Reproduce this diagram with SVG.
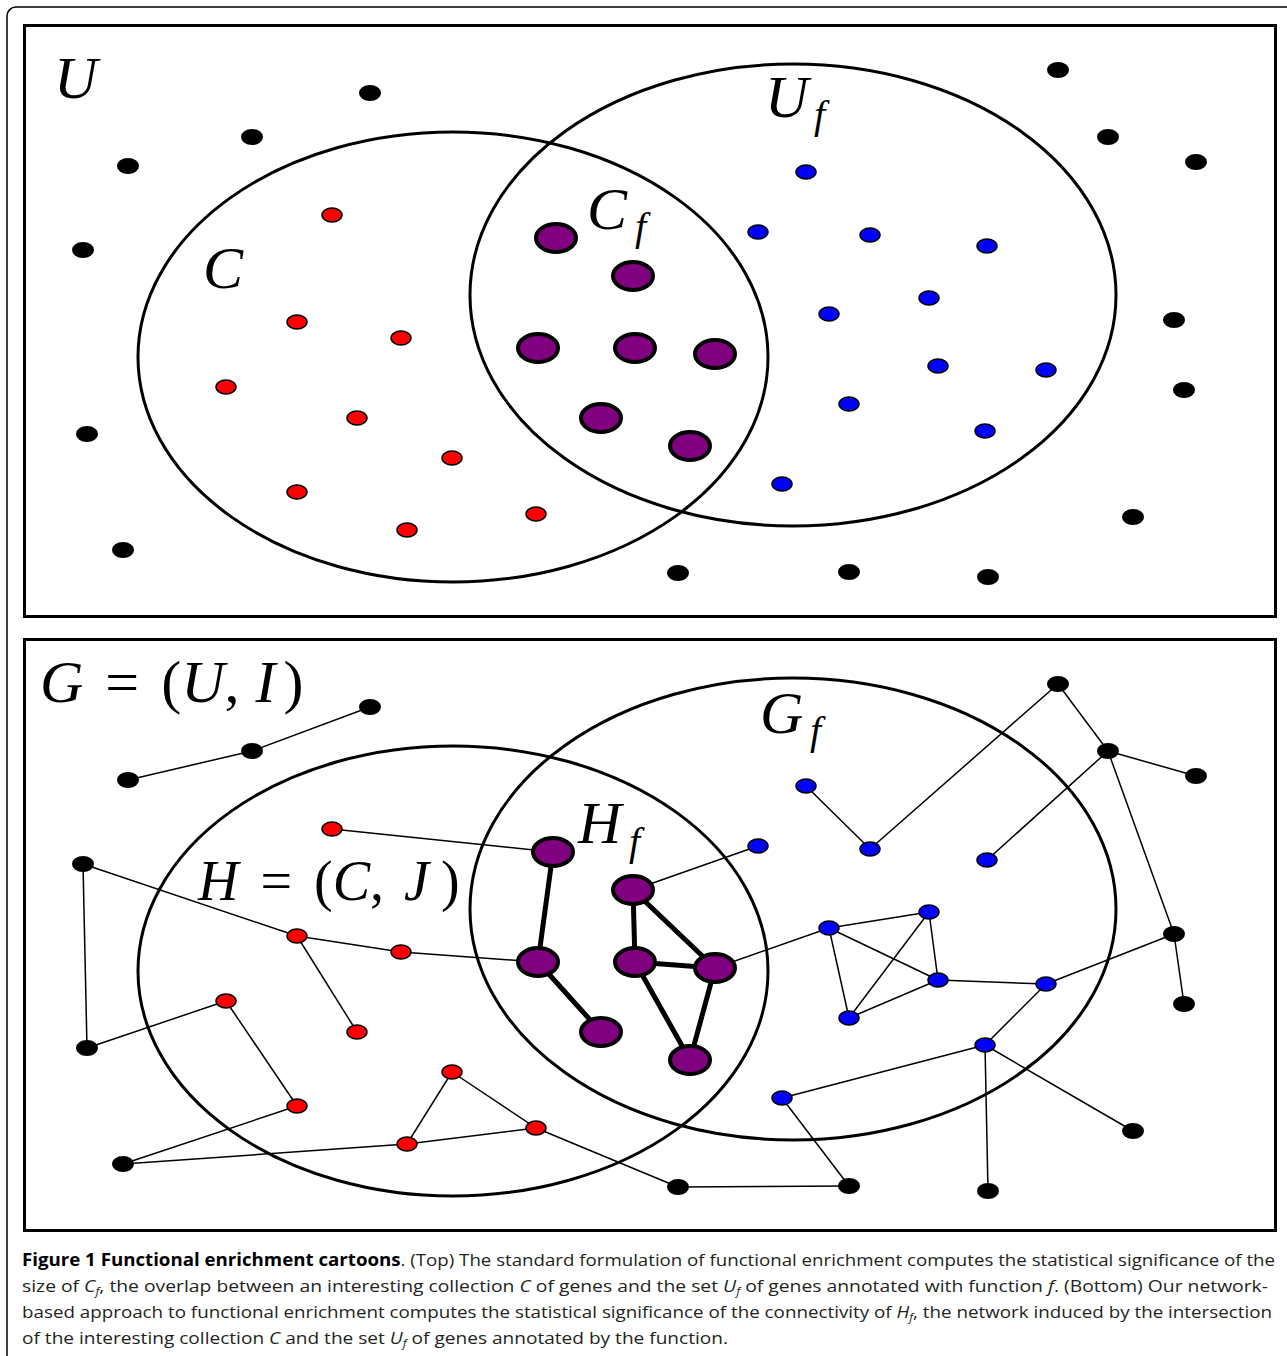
<svg xmlns="http://www.w3.org/2000/svg" width="1287" height="1356" viewBox="0 0 1287 1356">
<style>
.frame{fill:none;stroke:#000;stroke-width:1.5}
.panel{fill:none;stroke:#000;stroke-width:3}
.set{fill:none;stroke:#000;stroke-width:3}
.k{fill:#000}
.r{fill:#ff0000;stroke:#000;stroke-width:1.5}
.b{fill:#0000ff;stroke:#000;stroke-width:1.5}
.p{fill:#800080;stroke:#000;stroke-width:4}
.e{stroke:#000;stroke-width:1.5;fill:none}
.t{stroke:#000;stroke-width:5;fill:none;stroke-linecap:round}
.m{font-family:"Liberation Serif",serif;font-style:italic;fill:#000}
.mu{font-family:"Liberation Serif",serif;font-style:normal;fill:#000}
.cap{font-family:"Open Sans","Liberation Sans",sans-serif;font-size:17px;fill:#231f20}
.capb{font-weight:bold;fill:#000}
.ci{font-style:italic}
</style>
<rect class="frame" x="7" y="7" width="1300" height="1370" rx="9"/>
<rect class="panel" x="24.5" y="25.5" width="1251" height="591"/>
<rect class="panel" x="24.5" y="639.5" width="1251" height="591"/>

<!-- Top panel sets -->
<g id="set-C-top"><ellipse class="set" cx="453" cy="357" rx="315" ry="225"/></g>
<g id="set-Uf-top"><ellipse class="set" cx="793" cy="295" rx="323" ry="231"/></g>
<g id="label-U"><text class="m" x="54" y="98" font-size="60">U</text></g>
<g id="label-Uf"><text class="m" x="765" y="117" font-size="60">U</text><text class="m" x="814" y="128" font-size="40">f</text></g>
<g id="label-C"><text class="m" x="203" y="288" font-size="60">C</text></g>
<g id="label-Cf"><text class="m" x="587" y="229" font-size="60">C</text><text class="m" x="635" y="240" font-size="40">f</text></g>

<!-- Top panel nodes -->
<g id="top-black">
<g id="tk1"><ellipse class="k" cx="370" cy="93" rx="11" ry="8"/></g>
<g id="tk2"><ellipse class="k" cx="252" cy="137" rx="11" ry="8"/></g>
<g id="tk3"><ellipse class="k" cx="128" cy="166" rx="11" ry="8"/></g>
<g id="tk4"><ellipse class="k" cx="83" cy="250" rx="11" ry="8"/></g>
<g id="tk5"><ellipse class="k" cx="87" cy="434" rx="11" ry="8"/></g>
<g id="tk6"><ellipse class="k" cx="123" cy="550" rx="11" ry="8"/></g>
<g id="tk7"><ellipse class="k" cx="1058" cy="70" rx="11" ry="8"/></g>
<g id="tk8"><ellipse class="k" cx="1108" cy="137" rx="11" ry="8"/></g>
<g id="tk9"><ellipse class="k" cx="1196" cy="162" rx="11" ry="8"/></g>
<g id="tk10"><ellipse class="k" cx="1174" cy="320" rx="11" ry="8"/></g>
<g id="tk11"><ellipse class="k" cx="1184" cy="390" rx="11" ry="8"/></g>
<g id="tk12"><ellipse class="k" cx="1133" cy="517" rx="11" ry="8"/></g>
<g id="tk13"><ellipse class="k" cx="678" cy="573" rx="11" ry="8"/></g>
<g id="tk14"><ellipse class="k" cx="849" cy="572" rx="11" ry="8"/></g>
<g id="tk15"><ellipse class="k" cx="988" cy="577" rx="11" ry="8"/></g>
</g>
<g id="top-red">
<g id="tr1"><ellipse class="r" cx="332" cy="215" rx="10" ry="7"/></g>
<g id="tr2"><ellipse class="r" cx="297" cy="322" rx="10" ry="7"/></g>
<g id="tr3"><ellipse class="r" cx="401" cy="338" rx="10" ry="7"/></g>
<g id="tr4"><ellipse class="r" cx="226" cy="387" rx="10" ry="7"/></g>
<g id="tr5"><ellipse class="r" cx="357" cy="418" rx="10" ry="7"/></g>
<g id="tr6"><ellipse class="r" cx="452" cy="458" rx="10" ry="7"/></g>
<g id="tr7"><ellipse class="r" cx="297" cy="492" rx="10" ry="7"/></g>
<g id="tr8"><ellipse class="r" cx="407" cy="530" rx="10" ry="7"/></g>
<g id="tr9"><ellipse class="r" cx="536" cy="514" rx="10" ry="7"/></g>
</g>
<g id="top-blue">
<g id="tb1"><ellipse class="b" cx="806" cy="172" rx="10" ry="7"/></g>
<g id="tb2"><ellipse class="b" cx="758" cy="232" rx="10" ry="7"/></g>
<g id="tb3"><ellipse class="b" cx="870" cy="235" rx="10" ry="7"/></g>
<g id="tb4"><ellipse class="b" cx="987" cy="246" rx="10" ry="7"/></g>
<g id="tb5"><ellipse class="b" cx="829" cy="314" rx="10" ry="7"/></g>
<g id="tb6"><ellipse class="b" cx="929" cy="298" rx="10" ry="7"/></g>
<g id="tb7"><ellipse class="b" cx="938" cy="366" rx="10" ry="7"/></g>
<g id="tb8"><ellipse class="b" cx="1046" cy="370" rx="10" ry="7"/></g>
<g id="tb9"><ellipse class="b" cx="849" cy="404" rx="10" ry="7"/></g>
<g id="tb10"><ellipse class="b" cx="985" cy="431" rx="10" ry="7"/></g>
<g id="tb11"><ellipse class="b" cx="782" cy="484" rx="10" ry="7"/></g>
</g>
<g id="top-purple">
<g id="tp1"><ellipse class="p" cx="556" cy="238" rx="20" ry="14"/></g>
<g id="tp2"><ellipse class="p" cx="633" cy="276" rx="20" ry="14"/></g>
<g id="tp3"><ellipse class="p" cx="538" cy="348" rx="20" ry="14"/></g>
<g id="tp4"><ellipse class="p" cx="635" cy="348" rx="20" ry="14"/></g>
<g id="tp5"><ellipse class="p" cx="715" cy="354" rx="20" ry="14"/></g>
<g id="tp6"><ellipse class="p" cx="601" cy="418" rx="20" ry="14"/></g>
<g id="tp7"><ellipse class="p" cx="690" cy="446" rx="20" ry="14"/></g>
</g>

<!-- Bottom panel sets -->
<g id="set-C-bottom"><ellipse class="set" cx="453" cy="971" rx="315" ry="225"/></g>
<g id="set-Uf-bottom"><ellipse class="set" cx="793" cy="909" rx="323" ry="231"/></g>
<g id="label-G"><text x="40" y="702" font-size="60"><tspan class="m">G</tspan><tspan class="mu" dx="22">=</tspan><tspan class="mu" dx="22">(</tspan><tspan class="m">U</tspan><tspan class="mu">,</tspan><tspan class="m" dx="16">I</tspan><tspan class="mu" dx="8">)</tspan></text></g>
<g id="label-Gf"><text class="m" x="760" y="733" font-size="60">G</text><text class="m" x="810" y="744" font-size="40">f</text></g>
<g id="label-Hf"><text class="m" x="578" y="843" font-size="60">H</text><text class="m" x="629" y="855" font-size="40">f</text></g>
<g id="label-H"><text x="198" y="900" font-size="56"><tspan class="m">H</tspan><tspan class="mu" dx="22">=</tspan><tspan class="mu" dx="22">(</tspan><tspan class="m">C</tspan><tspan class="mu">,</tspan><tspan class="m" dx="20">J</tspan><tspan class="mu" dx="12">)</tspan></text></g>

<!-- Connectors -->
<g id="connectors">
<line class="e" x1="128" y1="780" x2="252" y2="751"/>
<line class="e" x1="252" y1="751" x2="370" y2="707"/>
<line class="e" x1="83" y1="864" x2="87" y2="1048"/>
<line class="e" x1="83" y1="864" x2="297" y2="936"/>
<line class="e" x1="87" y1="1048" x2="226" y2="1001"/>
<line class="e" x1="226" y1="1001" x2="297" y2="1106"/>
<line class="e" x1="297" y1="1106" x2="123" y2="1164"/>
<line class="e" x1="123" y1="1164" x2="407" y2="1144"/>
<line class="e" x1="297" y1="936" x2="401" y2="952"/>
<line class="e" x1="297" y1="936" x2="357" y2="1032"/>
<line class="e" x1="401" y1="952" x2="538" y2="962"/>
<line class="e" x1="332" y1="829" x2="553" y2="852"/>
<line class="e" x1="407" y1="1144" x2="452" y2="1072"/>
<line class="e" x1="452" y1="1072" x2="536" y2="1128"/>
<line class="e" x1="407" y1="1144" x2="536" y2="1128"/>
<line class="e" x1="536" y1="1128" x2="678" y2="1187"/>
<line class="e" x1="678" y1="1187" x2="849" y2="1186"/>
<line class="e" x1="849" y1="1186" x2="782" y2="1098"/>
<line class="e" x1="782" y1="1098" x2="985" y2="1045"/>
<line class="e" x1="985" y1="1045" x2="988" y2="1191"/>
<line class="e" x1="985" y1="1045" x2="1133" y2="1131"/>
<line class="e" x1="985" y1="1045" x2="1046" y2="984"/>
<line class="e" x1="1046" y1="984" x2="938" y2="980"/>
<line class="e" x1="1046" y1="984" x2="1174" y2="934"/>
<line class="e" x1="1174" y1="934" x2="1184" y2="1004"/>
<line class="e" x1="1174" y1="934" x2="1108" y2="751"/>
<line class="e" x1="1108" y1="751" x2="1196" y2="776"/>
<line class="e" x1="1108" y1="751" x2="1058" y2="684"/>
<line class="e" x1="1108" y1="751" x2="987" y2="860"/>
<line class="e" x1="1058" y1="684" x2="870" y2="849"/>
<line class="e" x1="870" y1="849" x2="806" y2="786"/>
<line class="e" x1="829" y1="928" x2="929" y2="912"/>
<line class="e" x1="829" y1="928" x2="938" y2="980"/>
<line class="e" x1="829" y1="928" x2="849" y2="1018"/>
<line class="e" x1="929" y1="912" x2="938" y2="980"/>
<line class="e" x1="929" y1="912" x2="849" y2="1018"/>
<line class="e" x1="938" y1="980" x2="849" y2="1018"/>
<line class="e" x1="829" y1="928" x2="715" y2="968"/>
<line class="e" x1="633" y1="890" x2="758" y2="846"/>
<line class="t" x1="553" y1="852" x2="538" y2="962"/>
<line class="t" x1="538" y1="962" x2="601" y2="1032"/>
<line class="t" x1="633" y1="890" x2="635" y2="962"/>
<line class="t" x1="633" y1="890" x2="715" y2="968"/>
<line class="t" x1="635" y1="962" x2="715" y2="968"/>
<line class="t" x1="635" y1="962" x2="690" y2="1060"/>
<line class="t" x1="715" y1="968" x2="690" y2="1060"/>
</g>

<!-- Bottom panel nodes -->
<g id="bottom-black">
<g id="bk1"><ellipse class="k" cx="370" cy="707" rx="11" ry="8"/></g>
<g id="bk2"><ellipse class="k" cx="252" cy="751" rx="11" ry="8"/></g>
<g id="bk3"><ellipse class="k" cx="128" cy="780" rx="11" ry="8"/></g>
<g id="bk4"><ellipse class="k" cx="83" cy="864" rx="11" ry="8"/></g>
<g id="bk5"><ellipse class="k" cx="87" cy="1048" rx="11" ry="8"/></g>
<g id="bk6"><ellipse class="k" cx="123" cy="1164" rx="11" ry="8"/></g>
<g id="bk7"><ellipse class="k" cx="1058" cy="684" rx="11" ry="8"/></g>
<g id="bk8"><ellipse class="k" cx="1108" cy="751" rx="11" ry="8"/></g>
<g id="bk9"><ellipse class="k" cx="1196" cy="776" rx="11" ry="8"/></g>
<g id="bk10"><ellipse class="k" cx="1174" cy="934" rx="11" ry="8"/></g>
<g id="bk11"><ellipse class="k" cx="1184" cy="1004" rx="11" ry="8"/></g>
<g id="bk12"><ellipse class="k" cx="1133" cy="1131" rx="11" ry="8"/></g>
<g id="bk13"><ellipse class="k" cx="678" cy="1187" rx="11" ry="8"/></g>
<g id="bk14"><ellipse class="k" cx="849" cy="1186" rx="11" ry="8"/></g>
<g id="bk15"><ellipse class="k" cx="988" cy="1191" rx="11" ry="8"/></g>
</g>
<g id="bottom-red">
<g id="br1"><ellipse class="r" cx="332" cy="829" rx="10" ry="7"/></g>
<g id="br2"><ellipse class="r" cx="297" cy="936" rx="10" ry="7"/></g>
<g id="br3"><ellipse class="r" cx="401" cy="952" rx="10" ry="7"/></g>
<g id="br4"><ellipse class="r" cx="226" cy="1001" rx="10" ry="7"/></g>
<g id="br5"><ellipse class="r" cx="357" cy="1032" rx="10" ry="7"/></g>
<g id="br6"><ellipse class="r" cx="452" cy="1072" rx="10" ry="7"/></g>
<g id="br7"><ellipse class="r" cx="297" cy="1106" rx="10" ry="7"/></g>
<g id="br8"><ellipse class="r" cx="407" cy="1144" rx="10" ry="7"/></g>
<g id="br9"><ellipse class="r" cx="536" cy="1128" rx="10" ry="7"/></g>
</g>
<g id="bottom-blue">
<g id="bb1"><ellipse class="b" cx="806" cy="786" rx="10" ry="7"/></g>
<g id="bb2"><ellipse class="b" cx="758" cy="846" rx="10" ry="7"/></g>
<g id="bb3"><ellipse class="b" cx="870" cy="849" rx="10" ry="7"/></g>
<g id="bb4"><ellipse class="b" cx="987" cy="860" rx="10" ry="7"/></g>
<g id="bb5"><ellipse class="b" cx="829" cy="928" rx="10" ry="7"/></g>
<g id="bb6"><ellipse class="b" cx="929" cy="912" rx="10" ry="7"/></g>
<g id="bb7"><ellipse class="b" cx="938" cy="980" rx="10" ry="7"/></g>
<g id="bb8"><ellipse class="b" cx="1046" cy="984" rx="10" ry="7"/></g>
<g id="bb9"><ellipse class="b" cx="849" cy="1018" rx="10" ry="7"/></g>
<g id="bb10"><ellipse class="b" cx="985" cy="1045" rx="10" ry="7"/></g>
<g id="bb11"><ellipse class="b" cx="782" cy="1098" rx="10" ry="7"/></g>
</g>
<g id="bottom-purple">
<g id="bp1"><ellipse class="p" cx="553" cy="852" rx="20" ry="14"/></g>
<g id="bp2"><ellipse class="p" cx="633" cy="890" rx="20" ry="14"/></g>
<g id="bp3"><ellipse class="p" cx="538" cy="962" rx="20" ry="14"/></g>
<g id="bp4"><ellipse class="p" cx="635" cy="962" rx="20" ry="14"/></g>
<g id="bp5"><ellipse class="p" cx="715" cy="968" rx="20" ry="14"/></g>
<g id="bp6"><ellipse class="p" cx="601" cy="1032" rx="20" ry="14"/></g>
<g id="bp7"><ellipse class="p" cx="690" cy="1060" rx="20" ry="14"/></g>
</g>

<!-- Caption -->
<g id="caption">
<text class="cap" x="22" y="1266" textLength="1253" lengthAdjust="spacingAndGlyphs"><tspan class="capb">Figure 1 Functional enrichment cartoons</tspan>. (Top) The standard formulation of functional enrichment computes the statistical significance of the</text>
<text class="cap" x="22" y="1292" textLength="1246" lengthAdjust="spacingAndGlyphs">size of <tspan class="ci">C</tspan><tspan class="ci" font-size="11" dy="3">f</tspan><tspan dy="-3">, the overlap between an interesting collection </tspan><tspan class="ci">C</tspan> of genes and the set <tspan class="ci">U</tspan><tspan class="ci" font-size="11" dy="3">f</tspan><tspan dy="-3"> of genes annotated with function </tspan><tspan class="ci">f</tspan>. (Bottom) Our network-</text>
<text class="cap" x="22" y="1318" textLength="1250" lengthAdjust="spacingAndGlyphs">based approach to functional enrichment computes the statistical significance of the connectivity of <tspan class="ci">H</tspan><tspan class="ci" font-size="11" dy="3">f</tspan><tspan dy="-3">, the network induced by the intersection</tspan></text>
<text class="cap" x="22" y="1344" textLength="706" lengthAdjust="spacingAndGlyphs">of the interesting collection <tspan class="ci">C</tspan> and the set <tspan class="ci">U</tspan><tspan class="ci" font-size="11" dy="3">f</tspan><tspan dy="-3"> of genes annotated by the function.</tspan></text>
</g>
</svg>
